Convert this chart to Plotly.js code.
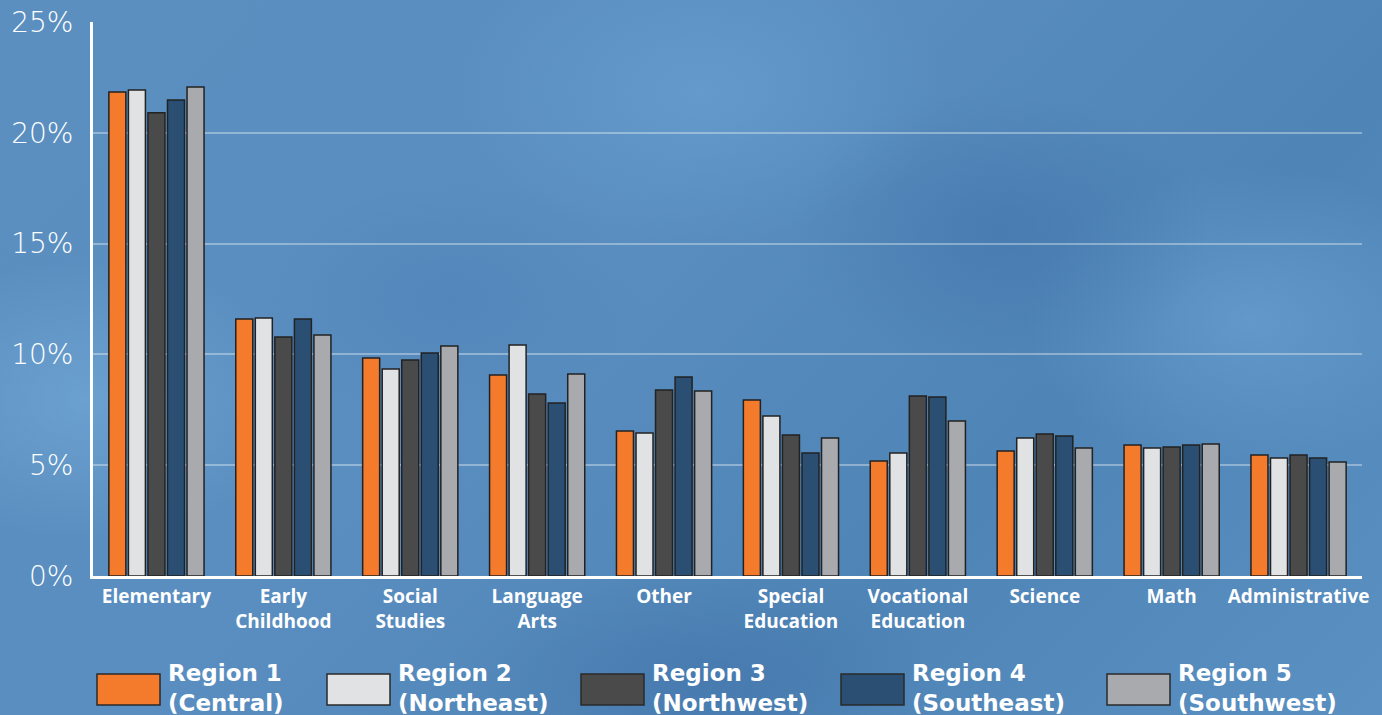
<!DOCTYPE html>
<html>
<head>
<meta charset="utf-8">
<script src="https://cdn.plot.ly/plotly-3.0.1.min.js"></script>
<style>
  html, body { margin:0; padding:0; width:1382px; height:715px; overflow:hidden; }
  body {
    background:
      radial-gradient(ellipse 300px 200px at 90px 400px, rgba(120,175,220,0.55), rgba(120,175,220,0) 70%),
      radial-gradient(ellipse 350px 220px at 700px 90px, rgba(110,165,215,0.5), rgba(110,165,215,0) 70%),
      radial-gradient(ellipse 300px 200px at 1000px 230px, rgba(60,110,165,0.45), rgba(60,110,165,0) 70%),
      radial-gradient(ellipse 320px 220px at 1250px 320px, rgba(115,170,220,0.5), rgba(115,170,220,0) 70%),
      radial-gradient(ellipse 280px 180px at 450px 300px, rgba(70,120,175,0.35), rgba(70,120,175,0) 70%),
      radial-gradient(ellipse 350px 160px at 700px 680px, rgba(60,110,165,0.45), rgba(60,110,165,0) 70%),
      linear-gradient(135deg, #5b8fc0 0%, #5a8ec0 40%, #4f84b6 70%, #5a90c2 100%);
  }
  #chart { width:1382px; height:715px; }
</style>
</head>
<body>
<div id="chart"></div>
<script>
const categories = ["Elementary", "Early<br>Childhood", "Social<br>Studies", "Language<br>Arts", "Other",
                    "Special<br>Education", "Vocational<br>Education", "Science", "Math", "Administrative"];
const seriesNames = ["Region 1", "Region 2", "Region 3", "Region 4", "Region 5"];
const seriesSub = ["(Central)", "(Northeast)", "(Northwest)", "(Southeast)", "(Southwest)"];
const region1 = [21.84, 11.60, 9.84, 9.07, 6.54, 7.94, 5.19, 5.64, 5.91, 5.46];
const region2 = [21.93, 11.64, 9.34, 10.42, 6.45, 7.22, 5.55, 6.23, 5.78, 5.32];
const region3 = [20.90, 10.78, 9.75, 8.21, 8.39, 6.36, 8.12, 6.41, 5.82, 5.46];
const region4 = [21.48, 11.60, 10.06, 7.81, 8.98, 5.55, 8.08, 6.32, 5.91, 5.32];
const region5 = [22.07, 10.88, 10.38, 9.12, 8.35, 6.23, 7.00, 5.78, 5.96, 5.14];
const seriesValues = [region1, region2, region3, region4, region5];
const colors = ["#f47a2c", "#e1e2e4", "#4a4a4a", "#2b4f72", "#a9aaae"];
const yTickVals = [0, 5, 10, 15, 20, 25];
const yTickText = ["0%", "5%", "10%", "15%", "20%", "25%"];

// legend swatch pixel positions (layout only)
const legendLeftPx = [97, 327, 581, 841, 1107];
const plotLeft = 93, plotRight = 1362, plotTop = 22, plotBottom = 576;
const pw = plotRight - plotLeft, ph = plotBottom - plotTop;
const px2x = p => (p - plotLeft) / pw;
const py2y = p => (plotBottom - p) / ph;

const traces = seriesValues.map((vals, i) => ({
  type: "bar",
  name: seriesNames[i],
  x: categories,
  y: vals,
  marker: { color: colors[i], line: { color: "#222222", width: 1.5 } },
  hovertemplate: "%{x}: %{y:.1f}%<extra>" + seriesNames[i] + "</extra>"
}));

const shapes = [];
const annotations = [];
seriesNames.forEach((n, i) => {
  const l = legendLeftPx[i];
  shapes.push({
    type: "rect", xref: "paper", yref: "paper",
    x0: px2x(l), x1: px2x(l + 63), y0: py2y(705), y1: py2y(674),
    fillcolor: colors[i], line: { color: "#2a2a2a", width: 1.5 }
  });
  annotations.push({
    xref: "paper", yref: "paper", x: px2x(l + 69), y: py2y(688),
    xanchor: "left", yanchor: "middle", align: "left", showarrow: false,
    text: "<b>" + n + "<br>" + seriesSub[i] + "</b>",
    font: { family: "DejaVu Sans, sans-serif", size: 23, color: "#ffffff" }
  });
});

const layout = {
  width: 1382, height: 715,
  paper_bgcolor: "rgba(0,0,0,0)",
  plot_bgcolor: "rgba(0,0,0,0)",
  margin: { l: plotLeft, r: 1382 - plotRight, t: plotTop, b: 715 - plotBottom, pad: 0 },
  barmode: "group",
  bargap: 0.23,
  bargroupgap: 0.13,
  showlegend: false,
  xaxis: {
    type: "category",
    showline: true, linecolor: "#ffffff", linewidth: 3,
    showgrid: false, ticks: "",
    tickfont: { family: "Open Sans, sans-serif", size: 19, color: "#ffffff", weight: 700 },
    ticklabelstandoff: 1
  },
  yaxis: {
    range: [0, 25],
    tickvals: yTickVals, ticktext: yTickText,
    showline: true, linecolor: "#ffffff", linewidth: 3,
    showgrid: true, gridcolor: "rgba(255,255,255,0.35)", gridwidth: 2,
    zeroline: false, ticks: "",
    tickfont: { family: "DejaVu Sans, sans-serif", size: 28, color: "#ffffff", weight: 200 },
    ticklabelstandoff: 11
  },
  shapes: shapes,
  annotations: annotations
};

Plotly.newPlot("chart", traces, layout, { displayModeBar: false, staticPlot: true });
</script>
</body>
</html>
